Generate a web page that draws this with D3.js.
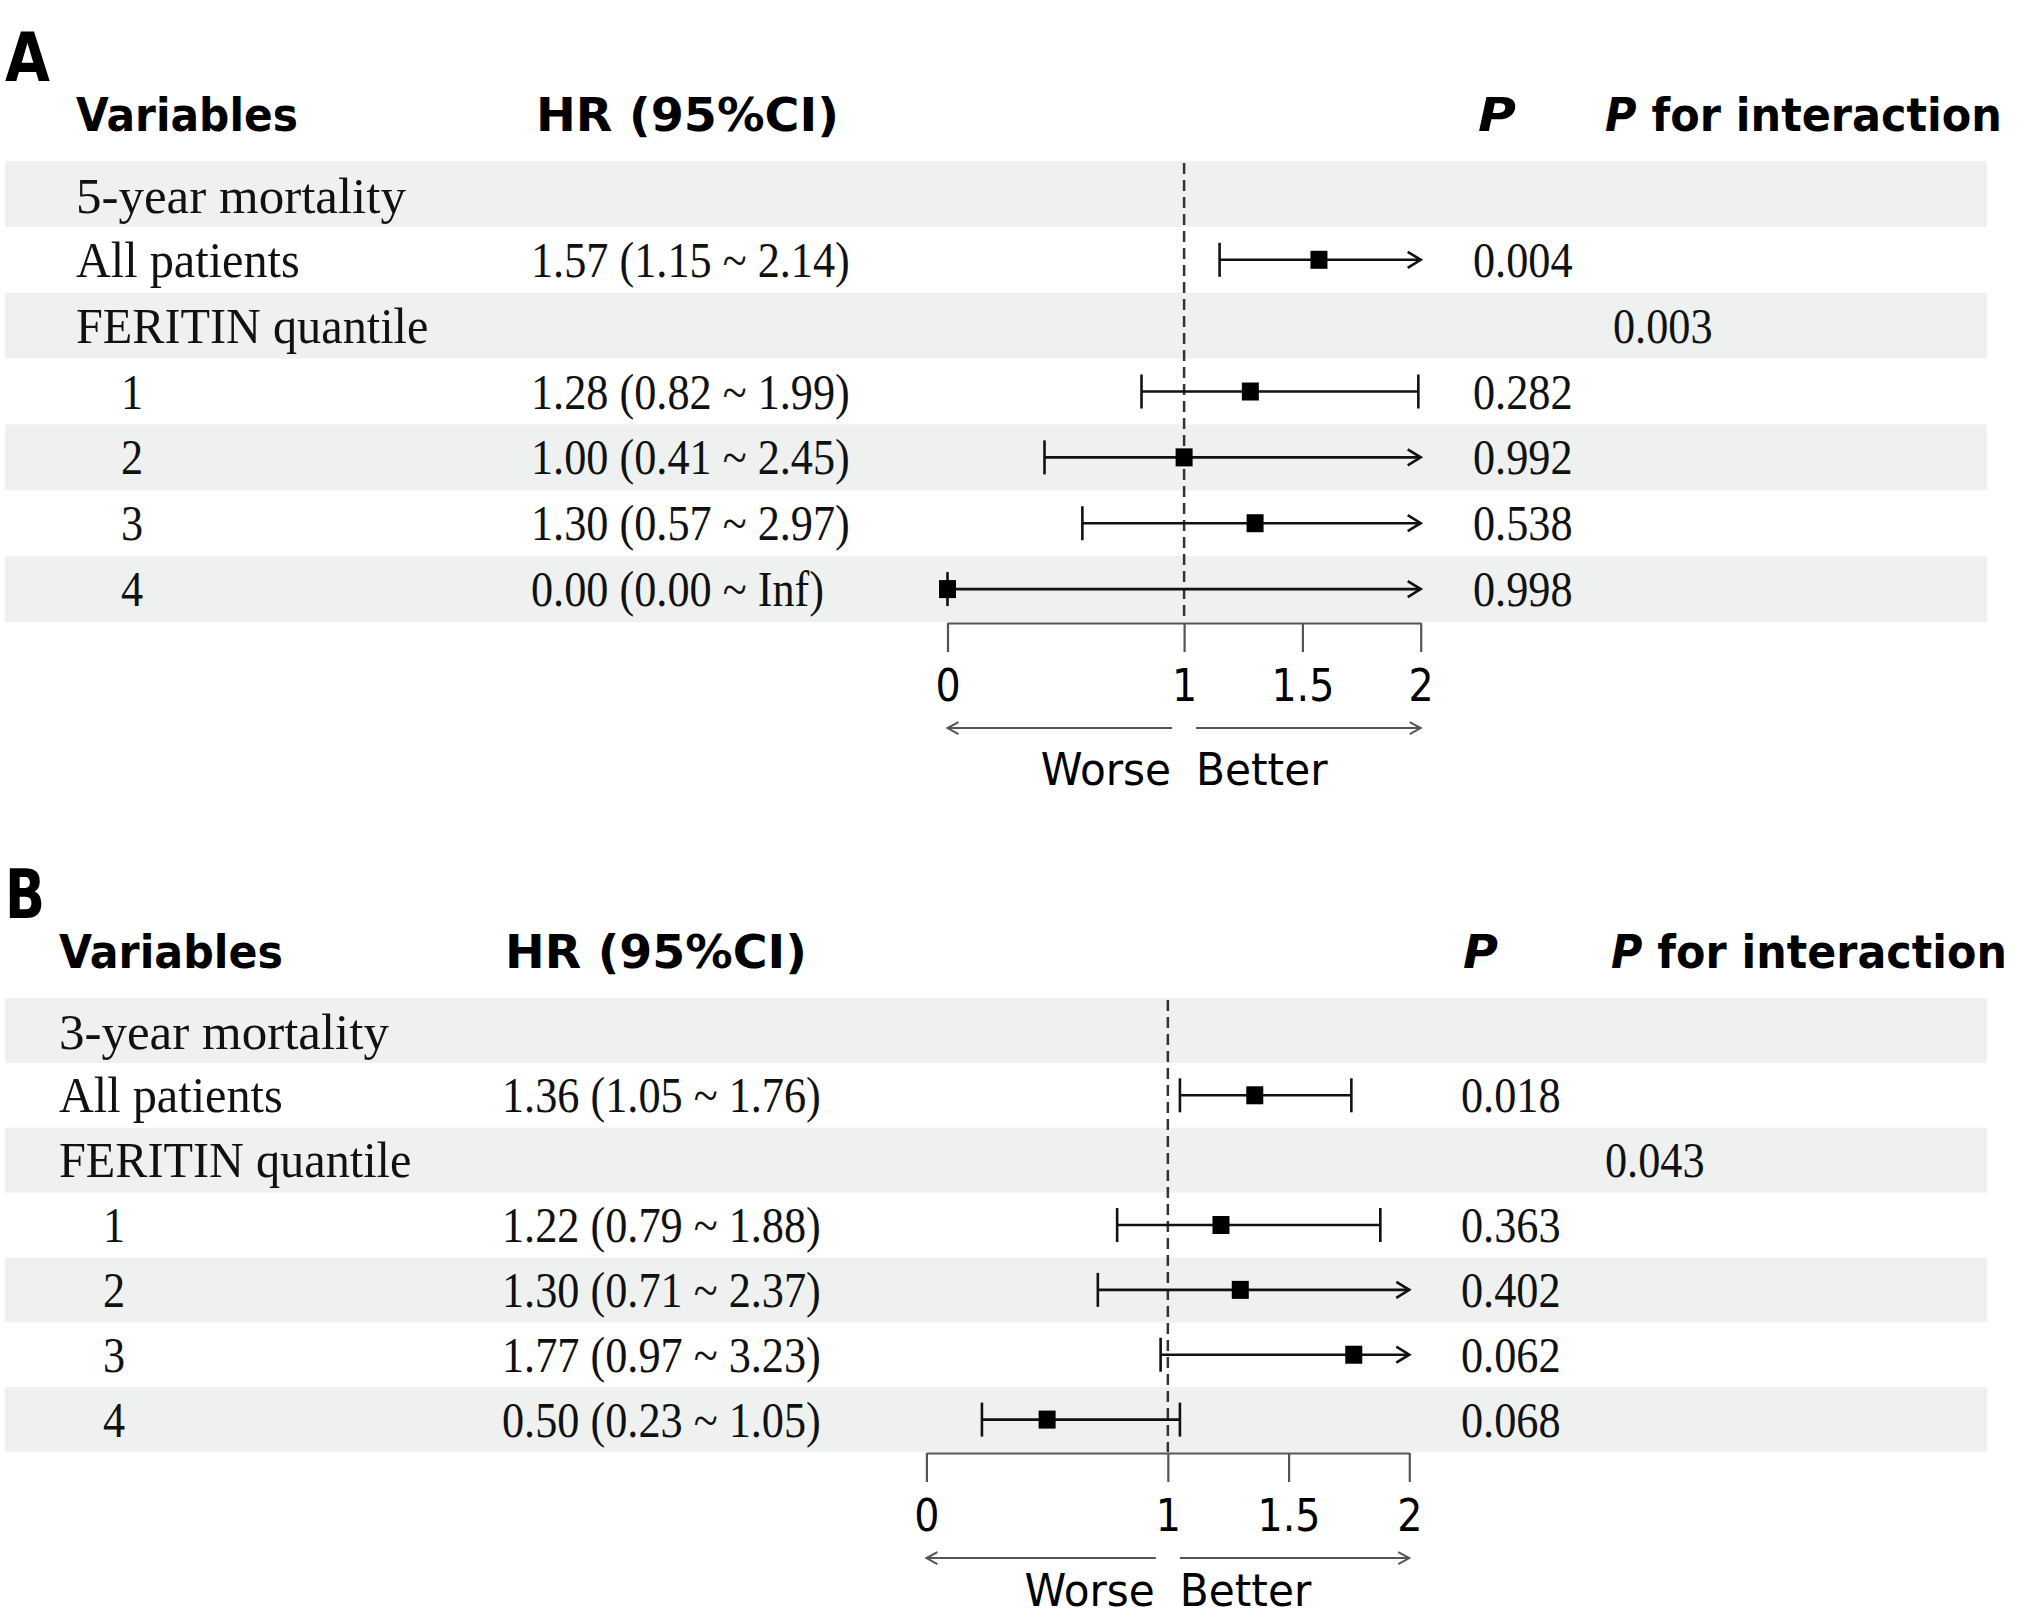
<!DOCTYPE html>
<html>
<head>
<meta charset="utf-8">
<script src="https://cdn.jsdelivr.net/npm/d3@7"></script>
<style>
  body { margin: 0; background: #fff; }
</style>
</head>
<body>
<svg id="chart" width="2025" height="1618"></svg>
<script>
// ---- data: panel A (5-year mortality) ----
const labelsA = ['5-year mortality', 'All patients', 'FERITIN quantile', '1', '2', '3', '4']
const hrA     = [null, 1.57, null, 1.28, 1.00, 1.30, 0.00]
const lowerA  = [null, 1.15, null, 0.82, 0.41, 0.57, 0.00]
const upperA  = [null, 2.14, null, 1.99, 2.45, 2.97, Infinity]
const pA      = ['', '0.004', '', '0.282', '0.992', '0.538', '0.998']
const pIntA   = ['', '', '0.003', '', '', '', '']

// ---- data: panel B (3-year mortality) ----
const labelsB = ['3-year mortality', 'All patients', 'FERITIN quantile', '1', '2', '3', '4']
const hrB     = [null, 1.36, null, 1.22, 1.30, 1.77, 0.50]
const lowerB  = [null, 1.05, null, 0.79, 0.71, 0.97, 0.23]
const upperB  = [null, 1.76, null, 1.88, 2.37, 3.23, 1.05]
const pB      = ['', '0.018', '', '0.363', '0.402', '0.062', '0.068']
const pIntB   = ['', '', '0.043', '', '', '', '']

const xDomain = [0, 2]
const tickValues = [0, 1, 1.5, 2]
const refValue = 1

// layout of the two panels (pixels)
const panels = [
    {
        letter: 'A', labels: labelsA, hr: hrA, lower: lowerA, upper: upperA, p: pA, pInt: pIntA,
        top: 161, rowH: 65.86, range: [947.5, 1420.7], letterY: 81, letterW: 45, headY: 131, wordY: 162,
        head: { vars: [76, 222], hr: [536, 303], p: [1478, 38], pint: [1605, 397] },
        col: { label: 76, num: 121, hr: 531, p: 1473, pint: 1613 }
    },
    {
        letter: 'B', labels: labelsB, hr: hrB, lower: lowerB, upper: upperB, p: pB, pInt: pIntB,
        top: 998, rowH: 64.86, range: [926.4, 1409.3], letterY: 918, letterW: 40, headY: 968, wordY: 153,
        head: { vars: [59, 224], hr: [505, 302], p: [1463, 35], pint: [1611, 396] },
        col: { label: 59, num: 103, hr: 502, p: 1461, pint: 1605 }
    }
]

const SANS = 'DejaVu Sans, Verdana, sans-serif'
const SERIF = 'Liberation Serif, Times New Roman, serif'
const fmt = v => v === Infinity ? 'Inf' : v.toFixed(2)

const svg = d3.select('#chart')

// serif text, slightly condensed like the original table
function serifText(g, str, x, y, size, sx) {
    g.append('text')
        .attr('transform', `translate(${x},${y}) scale(${sx},1)`)
        .attr('font-family', SERIF)
        .attr('font-size', size)
        .attr('fill', '#111')
        .text(str)
}

// bold header, squeezed horizontally to the width it has in the figure
function headText(g, x, y, width, size, build) {
    const t = g.append('text')
        .attr('font-family', SANS).attr('font-weight', 'bold')
        .attr('font-size', size)
    build(t)
    const natural = t.node().getComputedTextLength()
    t.attr('transform', `translate(${x},${y}) scale(${width / natural},1)`)
}

panels.forEach(pn => {
    const g = svg.append('g')
    const x = d3.scaleLinear().domain(xDomain).range(pn.range)
    const nRows = pn.labels.length
    const rowY = i => pn.top + i * pn.rowH
    const bottom = rowY(nRows)

    // zebra bands
    g.selectAll('rect.band')
        .data(pn.labels.map((d, i) => i).filter(i => i % 2 === 0))
        .enter()
        .append('rect')
        .attr('class', 'band')
        .attr('x', 5)
        .attr('width', 1982)
        .attr('y', i => rowY(i))
        .attr('height', pn.rowH)
        .attr('fill', '#eef1f0')

    // panel letter
    headText(g, 5, pn.letterY, pn.letterW, 68, t => t.text(pn.letter))

    // column headers
    headText(g, pn.head.vars[0], pn.headY, pn.head.vars[1], 46, t => t.text('Variables'))
    headText(g, pn.head.hr[0], pn.headY, pn.head.hr[1], 46, t => t.text('HR (95%CI)'))
    headText(g, pn.head.p[0], pn.headY, pn.head.p[1], 46, t => t.append('tspan').attr('font-style', 'italic').text('P'))
    headText(g, pn.head.pint[0], pn.headY, pn.head.pint[1], 46, t => {
        t.append('tspan').attr('font-style', 'italic').text('P')
        t.append('tspan').text(' for interaction')
    })

    // table text
    pn.labels.forEach((lab, i) => {
        const base = rowY(i) + pn.rowH / 2 + 17
        if (i === 0) {
            serifText(g, lab, pn.col.label, base + 2, 51, 1)
        } else {
            const isNum = /^\d$/.test(lab)
            serifText(g, lab, isNum ? pn.col.num : pn.col.label, base, 50, isNum ? 0.885 : 0.965)
        }
        if (pn.hr[i] !== null) {
            serifText(g, `${fmt(pn.hr[i])} (${fmt(pn.lower[i])} ~ ${fmt(pn.upper[i])})`, pn.col.hr, base, 50, 0.885)
        }
        if (pn.p[i]) serifText(g, pn.p[i], pn.col.p, base, 50, 0.885)
        if (pn.pInt[i]) serifText(g, pn.pInt[i], pn.col.pint, base, 50, 0.885)
    })

    // reference line at HR = 1
    g.append('line')
        .attr('x1', x(refValue)).attr('x2', x(refValue))
        .attr('y1', pn.top + 2).attr('y2', bottom)
        .attr('stroke', '#333').attr('stroke-width', 2.5)
        .attr('stroke-dasharray', '11,6')

    // confidence intervals
    const rows = pn.labels.map((d, i) => i).filter(i => pn.hr[i] !== null)
    const xMax = xDomain[1]
    const cy = i => rowY(i) + pn.rowH / 2
    const ci = g.selectAll('g.ci').data(rows).enter().append('g').attr('class', 'ci')
        .attr('stroke', '#111').attr('stroke-width', 2.6).attr('fill', 'none')

    ci.append('line')
        .attr('x1', i => x(pn.lower[i]))
        .attr('x2', i => x(Math.min(pn.upper[i], xMax)))
        .attr('y1', cy).attr('y2', cy)
    ci.append('line')
        .attr('x1', i => x(pn.lower[i])).attr('x2', i => x(pn.lower[i]))
        .attr('y1', i => cy(i) - 17).attr('y2', i => cy(i) + 17)
    ci.filter(i => pn.upper[i] <= xMax).append('line')
        .attr('x1', i => x(pn.upper[i])).attr('x2', i => x(pn.upper[i]))
        .attr('y1', i => cy(i) - 17).attr('y2', i => cy(i) + 17)
    ci.filter(i => pn.upper[i] > xMax).append('path')
        .attr('d', i => {
            const tx = x(xMax), y = cy(i)
            return `M${tx - 13},${y - 8}L${tx},${y}L${tx - 13},${y + 8}`
        })
    g.selectAll('rect.pt').data(rows).enter().append('rect')
        .attr('class', 'pt')
        .attr('x', i => x(pn.hr[i]) - 8.5).attr('y', i => cy(i) - 9)
        .attr('width', 17).attr('height', 18)
        .attr('fill', '#000')

    // axis
    const axisY = bottom + 1
    const axis = g.append('g')
        .attr('transform', `translate(0,${axisY})`)
        .call(d3.axisBottom(x).tickValues(tickValues).tickFormat(d3.format('')).tickSize(29).tickSizeOuter(0).tickPadding(17))
    axis.select('.domain').attr('stroke', '#555').attr('stroke-width', 2.2)
    axis.selectAll('.tick line').attr('stroke', '#555').attr('stroke-width', 2.2)
    axis.selectAll('.tick text')
        .attr('font-family', SANS).attr('font-size', 45).attr('fill', '#000')
        .attr('transform', 'scale(0.88,1)')

    // worse / better arrows
    const ay = axisY + 105
    const gap = 12
    const arr = g.append('g').attr('stroke', '#555').attr('stroke-width', 2).attr('fill', 'none')
    arr.append('line').attr('x1', x(xDomain[0])).attr('x2', x(refValue) - gap).attr('y1', ay).attr('y2', ay)
    arr.append('path').attr('d', `M${x(xDomain[0]) + 11},${ay - 6}L${x(xDomain[0])},${ay}L${x(xDomain[0]) + 11},${ay + 6}`)
    arr.append('line').attr('x1', x(refValue) + gap).attr('x2', x(xMax)).attr('y1', ay).attr('y2', ay)
    arr.append('path').attr('d', `M${x(xMax) - 11},${ay - 6}L${x(xMax)},${ay}L${x(xMax) - 11},${ay + 6}`)

    g.append('text')
        .attr('transform', `translate(${x(refValue) - 13},${axisY + pn.wordY}) scale(0.96,1)`)
        .attr('text-anchor', 'end')
        .attr('font-family', SANS).attr('font-size', 44)
        .text('Worse')
    g.append('text')
        .attr('transform', `translate(${x(refValue) + 12},${axisY + pn.wordY}) scale(0.96,1)`)
        .attr('font-family', SANS).attr('font-size', 44)
        .text('Better')
})
</script>
</body>
</html>
